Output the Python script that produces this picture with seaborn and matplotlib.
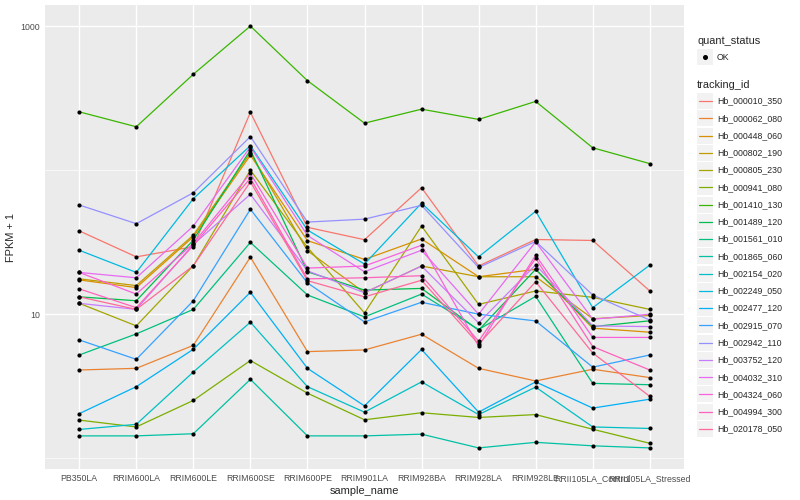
"""FPKM + 1 per sample, one line per tracking_id (ggplot-style look)"""
import numpy as np
import pandas as pd
import matplotlib
matplotlib.use('Agg')
import matplotlib.pyplot as plt
from matplotlib.patches import Rectangle
from matplotlib.lines import Line2D
from matplotlib.ticker import FixedLocator, NullFormatter
import seaborn as sns

# Данные
samples = ['PB350LA', 'RRIM600LA', 'RRIM600LE', 'RRIM600SE', 'RRIM600PE', 'RRIM901LA',
           'RRIM928BA', 'RRIM928LA', 'RRIM928LE', 'RRII105LA_Control', 'RRII105LA_Stressed']

hb_000010_350 = [37.9, 25.0, 29.4, 252, 40.1, 32.9, 75.5, 21.6, 33.0, 32.5, 14.5]
hb_000062_080 = [4.10, 4.21, 6.08, 24.9, 5.5, 5.65, 7.26, 4.21, 3.44, 4.15, 3.63]
hb_000448_060 = [17.3, 15.3, 34.5, 127, 32.4, 24.0, 33.3, 18.2, 20.5, 8.0, 7.5]
hb_000802_190 = [17.6, 15.8, 35.4, 132, 27.6, 14.1, 21.6, 18.2, 18.2, 9.3, 9.8]
hb_000805_230 = [11.9, 8.3, 21.7, 100, 29.1, 10.2, 40.9, 11.7, 14.5, 13.1, 10.8]
hb_000941_080 = [1.84, 1.65, 2.52, 4.77, 2.83, 1.85, 2.07, 1.92, 2.01, 1.59, 1.27]
hb_001410_130 = [254, 200, 463, 1000, 418, 212, 265, 225, 300, 143, 111]
hb_001489_120 = [13.2, 12.4, 32.7, 138, 19.7, 14.7, 15.1, 7.74, 20.5, 8.2, 9.0]
hb_001561_010 = [5.21, 7.3, 10.8, 31.5, 13.6, 9.58, 13.8, 7.83, 13.3, 3.31, 3.24]
hb_001865_060 = [1.43, 1.43, 1.48, 3.53, 1.43, 1.43, 1.47, 1.18, 1.29, 1.22, 1.18]
hb_002154_020 = [1.585, 1.72, 3.97, 8.80, 3.14, 2.09, 3.39, 2.01, 3.12, 1.65, 1.61]
hb_002249_050 = [27.8, 19.5, 63.4, 148, 38.4, 22.3, 59.0, 25.0, 51.8, 11.1, 21.9]
hb_002477_120 = [2.04, 3.14, 5.71, 14.2, 4.21, 2.31, 5.69, 2.09, 3.39, 2.23, 2.57]
hb_002915_070 = [6.63, 4.86, 12.4, 53.5, 16.5, 8.84, 12.1, 10.0, 8.98, 4.29, 5.21]
hb_002942_110 = [57.3, 42.5, 69.7, 171, 43.6, 45.7, 57.0, 21.1, 32.0, 13.6, 9.1]
hb_003752_120 = [11.9, 10.8, 30.5, 68, 20.0, 14.1, 21.6, 8.7, 22.0, 8.3, 8.2]
hb_004032_310 = [19.5, 17.9, 40.9, 145, 35.2, 19.7, 27.8, 10.0, 31.8, 9.23, 10.0]
hb_004324_060 = [19.5, 13.8, 31.0, 95, 20.9, 21.6, 30.1, 6.0, 25.7, 6.9, 6.9]
hb_004994_300 = [15.0, 11.1, 30.0, 88, 17.6, 17.9, 18.5, 6.5, 24.4, 5.96, 4.1]
hb_020178_050 = [13.2, 10.8, 21.7, 83, 17.1, 13.2, 17.2, 6.2, 16.8, 5.38, 2.69]

tracking_ids = ['Hb_000010_350', 'Hb_000062_080', 'Hb_000448_060', 'Hb_000802_190',
                'Hb_000805_230', 'Hb_000941_080', 'Hb_001410_130', 'Hb_001489_120',
                'Hb_001561_010', 'Hb_001865_060', 'Hb_002154_020', 'Hb_002249_050',
                'Hb_002477_120', 'Hb_002915_070', 'Hb_002942_110', 'Hb_003752_120',
                'Hb_004032_310', 'Hb_004324_060', 'Hb_004994_300', 'Hb_020178_050']
series = [hb_000010_350, hb_000062_080, hb_000448_060, hb_000802_190, hb_000805_230,
          hb_000941_080, hb_001410_130, hb_001489_120, hb_001561_010, hb_001865_060,
          hb_002154_020, hb_002249_050, hb_002477_120, hb_002915_070, hb_002942_110,
          hb_003752_120, hb_004032_310, hb_004324_060, hb_004994_300, hb_020178_050]

rows = []
for tid, vals in zip(tracking_ids, series):
    for s, v in zip(samples, vals):
        rows.append({'tracking_id': tid, 'sample_name': s, 'fpkm': v, 'quant_status': 'OK'})
df = pd.DataFrame(rows)


# Палитра как у ggplot: hcl(h, c=100, l=65)
def hcl_hex(h, c=100.0, l=65.0):
    xn, yn, zn = 95.047, 100.0, 108.883
    un = 4 * xn / (xn + 15 * yn + 3 * zn)
    vn = 9 * yn / (xn + 15 * yn + 3 * zn)
    u = c * np.cos(np.radians(h))
    v = c * np.sin(np.radians(h))
    y = yn * ((l + 16) / 116) ** 3
    up = u / (13 * l) + un
    vp = v / (13 * l) + vn
    x = y * 9 * up / (4 * vp)
    z = y * (12 - 3 * up - 20 * vp) / (4 * vp)
    m = np.array([[3.2404542, -1.5371385, -0.4985314],
                  [-0.9692660, 1.8760108, 0.0415560],
                  [0.0556434, -0.2040259, 1.0572252]])
    rgb = m @ (np.array([x, y, z]) / 100.0)
    rgb = np.where(rgb <= 0.0031308, 12.92 * rgb, 1.055 * np.abs(rgb) ** (1 / 2.4) - 0.055)
    rgb = np.clip(rgb, 0, 1)
    return '#%02x%02x%02x' % tuple(int(round(ch * 255)) for ch in rgb)


n = len(tracking_ids)
hues = np.linspace(15, 375 - 360 / n, n)
palette = {tid: hcl_hex(h) for tid, h in zip(tracking_ids, hues)}

sns.set_style('white')
plt.rcParams['font.family'] = ['Liberation Sans', 'DejaVu Sans']

fig = plt.figure(figsize=(8, 5), dpi=100)
ax = fig.add_axes([45 / 800, 1 - 469 / 500, (684 - 45) / 800, (469 - 5) / 500])
ax.set_facecolor('#EBEBEB')

sns.lineplot(data=df, x='sample_name', y='fpkm', hue='tracking_id', palette=palette,
             hue_order=tracking_ids, estimator=None, sort=False, legend=False,
             linewidth=0.9, ax=ax, zorder=2)
sns.scatterplot(data=df, x='sample_name', y='fpkm', color='black', s=9,
                linewidth=0, legend=False, ax=ax, zorder=3)

ax.set_yscale('log')
lo, hi = np.log10(df['fpkm'].min()), np.log10(df['fpkm'].max())
pad = 0.05 * (hi - lo)
ax.set_ylim(10 ** (lo - pad), 10 ** (hi + pad))
ax.set_xlim(-0.6, len(samples) - 1 + 0.6)

ax.yaxis.set_major_locator(FixedLocator([10, 1000]))
ax.set_yticklabels(['10', '1000'])
ax.yaxis.set_minor_locator(FixedLocator([1, 100]))
ax.yaxis.set_minor_formatter(NullFormatter())
ax.set_xticks(range(len(samples)))
ax.set_xticklabels(samples)

ax.grid(which='major', color='white', linewidth=1.0)
ax.grid(which='minor', axis='y', color='white', linewidth=0.5)
ax.set_axisbelow(True)
for sp in ax.spines.values():
    sp.set_visible(False)
ax.tick_params(which='major', length=2.0, width=0.7, color='#333333',
               labelcolor='#4D4D4D', labelsize=6.3, pad=1.5)
ax.tick_params(which='minor', length=0)

ax.set_xlabel('sample_name', fontsize=7.9, labelpad=2)
ax.set_ylabel('FPKM + 1', fontsize=7.9, labelpad=3)


# Легенда в стиле ggplot
def fx(px):
    return px / 800


def fy(py):
    return 1 - py / 500


key = 16
fig.text(fx(697), fy(41), 'quant_status', fontsize=7.9, va='center', ha='left')
fig.add_artist(Rectangle((fx(697), fy(65)), key / 800, key / 500,
                         transform=fig.transFigure, facecolor='#F2F2F2', edgecolor='none'))
fig.add_artist(Line2D([fx(705)], [fy(57)], marker='o', markersize=2.6, color='black',
                      linestyle='none', transform=fig.transFigure))
fig.text(fx(717), fy(57), 'OK', fontsize=6.3, va='center', ha='left')

fig.text(fx(697), fy(85), 'tracking_id', fontsize=7.9, va='center', ha='left')
step = (429 - 101) / (n - 1)
for i, tid in enumerate(tracking_ids):
    cy = 101 + i * step
    fig.add_artist(Rectangle((fx(697), fy(cy + key / 2)), key / 800, key / 500,
                             transform=fig.transFigure, facecolor='#F2F2F2', edgecolor='none'))
    fig.add_artist(Line2D([fx(698.5), fx(711.5)], [fy(cy), fy(cy)], color=palette[tid],
                          linewidth=0.9, transform=fig.transFigure))
    fig.text(fx(717), fy(cy), tid, fontsize=6.3, va='center', ha='left')

fig.savefig('out.png', dpi=100)
